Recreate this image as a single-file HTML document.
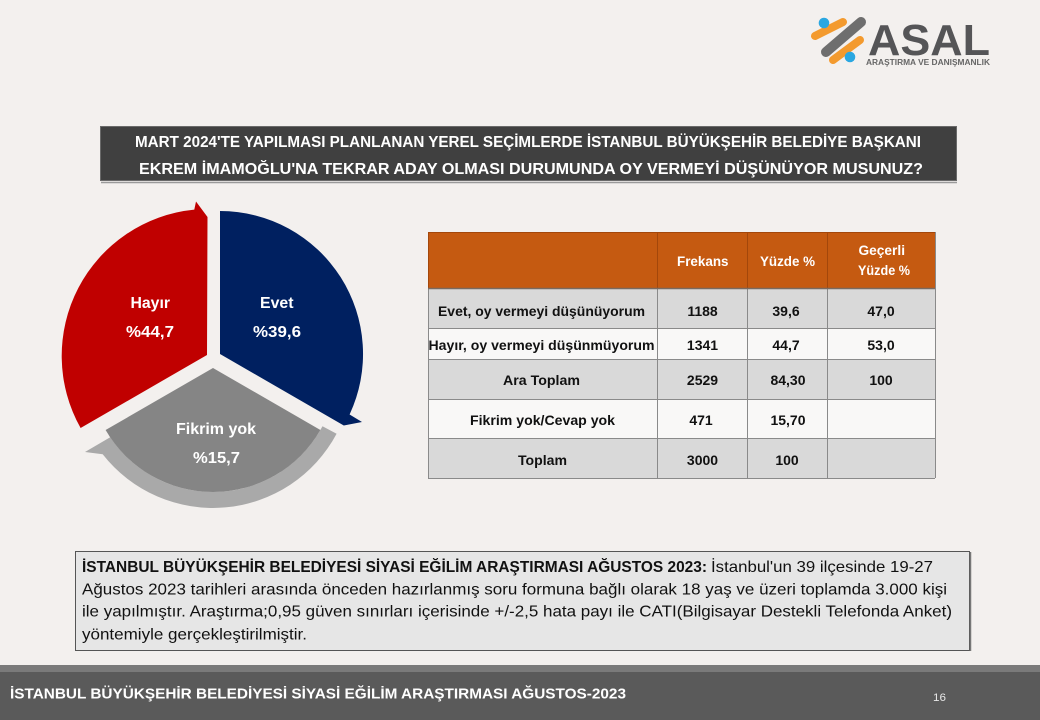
<!DOCTYPE html>
<html>
<head>
<meta charset="utf-8">
<style>
html,body{margin:0;padding:0;background:#f3f0ee;}
svg{display:block;}
text{font-family:"Liberation Sans","DejaVu Sans",sans-serif;}
</style>
</head>
<body>
<svg width="1040" height="720" viewBox="0 0 1040 720" xmlns="http://www.w3.org/2000/svg">
  <rect x="0" y="0" width="1040" height="720" fill="#f3f0ee"/>

  <!-- Logo -->
  <g>
    <line x1="826" y1="52" x2="861" y2="22" stroke="#6e6e6e" stroke-width="10" stroke-linecap="round"/>
    <line x1="815" y1="36" x2="843" y2="22" stroke="#f39a2e" stroke-width="8" stroke-linecap="round"/>
    <line x1="833" y1="60" x2="860" y2="40" stroke="#f39a2e" stroke-width="8" stroke-linecap="round"/>
    <circle cx="824" cy="23" r="5.3" fill="#2aa7e1"/>
    <circle cx="850" cy="57" r="5.3" fill="#2aa7e1"/>
    <text x="868" y="55" font-size="44" font-weight="bold" fill="#555557" textLength="122" lengthAdjust="spacingAndGlyphs">ASAL</text>
    <text x="866" y="65" font-size="8" font-weight="bold" fill="#666" textLength="124" lengthAdjust="spacingAndGlyphs">ARAŞTIRMA VE DANIŞMANLIK</text>
  </g>

  <!-- Title box -->
  <line x1="101" y1="182.5" x2="957" y2="182.5" stroke="#9a9a9a" stroke-width="1.5"/>
  <rect x="100.5" y="126.5" width="856" height="54" fill="#404040" stroke="#6a6a6a" stroke-width="1"/>
  <text x="135" y="147" font-size="16" font-weight="bold" fill="#ffffff" textLength="786" lengthAdjust="spacingAndGlyphs">MART 2024'TE YAPILMASI PLANLANAN YEREL SEÇİMLERDE İSTANBUL BÜYÜKŞEHİR BELEDİYE BAŞKANI</text>
  <text x="139" y="174" font-size="16" font-weight="bold" fill="#ffffff" textLength="784" lengthAdjust="spacingAndGlyphs">EKREM İMAMOĞLU'NA TEKRAR ADAY OLMASI DURUMUNDA OY VERMEYİ DÜŞÜNÜYOR MUSUNUZ?</text>

  <!-- Pie / cycle -->
  <path d="M207,355 L80.6,428 A147,147 0 0 1 194.3,209.6 L196,201.5 L207.5,217 Z" fill="#c00000"/>
  <path d="M220,354 L220,211 A143,143 0 0 1 349.6,414.5 L362,422 L343.8,425.5 Z" fill="#002060"/>
  <path d="M322.5,426.2 L336.6,433.7 A140,140 0 0 1 102.7,454.2 L85,452 L110.2,437.3 A124,124 0 0 0 322.5,426.2 Z" fill="#a9a9a9"/>
  <path d="M213,368 L320.4,430 A124,124 0 0 1 105.6,430 Z" fill="#858585"/>

  <text x="130.5" y="308" font-size="16" font-weight="bold" fill="#ffffff" textLength="39.5" lengthAdjust="spacingAndGlyphs">Hayır</text>
  <text x="126" y="337" font-size="16" font-weight="bold" fill="#ffffff" textLength="48" lengthAdjust="spacingAndGlyphs">%44,7</text>
  <text x="260" y="308" font-size="16" font-weight="bold" fill="#ffffff" textLength="33.5" lengthAdjust="spacingAndGlyphs">Evet</text>
  <text x="253" y="337" font-size="16" font-weight="bold" fill="#ffffff" textLength="48" lengthAdjust="spacingAndGlyphs">%39,6</text>
  <text x="176" y="434" font-size="16" font-weight="bold" fill="#ffffff" textLength="80" lengthAdjust="spacingAndGlyphs">Fikrim yok</text>
  <text x="193" y="463" font-size="16" font-weight="bold" fill="#ffffff" textLength="47" lengthAdjust="spacingAndGlyphs">%15,7</text>

  <!-- Table -->
  <rect x="428" y="232" width="507" height="56" fill="#c55a11"/>
  <rect x="428" y="288" width="507" height="40" fill="#d9d9d9"/>
  <rect x="428" y="328" width="507" height="31" fill="#f9f8f7"/>
  <rect x="428" y="359" width="507" height="40" fill="#d9d9d9"/>
  <rect x="428" y="399" width="507" height="39" fill="#f9f8f7"/>
  <rect x="428" y="438" width="507" height="40" fill="#d9d9d9"/>
  <g stroke="#8a8a8a" stroke-width="1">
    <line x1="428" y1="328.5" x2="935" y2="328.5"/>
    <line x1="428" y1="359.5" x2="935" y2="359.5"/>
    <line x1="428" y1="399.5" x2="935" y2="399.5"/>
    <line x1="428" y1="438.5" x2="935" y2="438.5"/>
    <line x1="428" y1="478.5" x2="935" y2="478.5"/>
    <line x1="428.5" y1="288" x2="428.5" y2="478"/>
    <line x1="657.5" y1="288" x2="657.5" y2="478"/>
    <line x1="747.5" y1="288" x2="747.5" y2="478"/>
    <line x1="827.5" y1="288" x2="827.5" y2="478"/>
    <line x1="935.5" y1="232" x2="935.5" y2="478"/>
  </g>
  <g stroke="#a3470b" stroke-width="1">
    <line x1="428" y1="232.5" x2="935" y2="232.5"/>
    <line x1="428.5" y1="232" x2="428.5" y2="288"/>
    <line x1="657.5" y1="232" x2="657.5" y2="288"/>
    <line x1="747.5" y1="232" x2="747.5" y2="288"/>
    <line x1="827.5" y1="232" x2="827.5" y2="288"/>
  </g>
  <line x1="428" y1="288.5" x2="935" y2="288.5" stroke="#7a6a60" stroke-width="1.5"/>

  <g font-size="13.5" font-weight="bold" fill="#ffffff">
    <text x="677" y="266" textLength="51.5" lengthAdjust="spacingAndGlyphs">Frekans</text>
    <text x="760" y="266" textLength="55" lengthAdjust="spacingAndGlyphs">Yüzde %</text>
    <text x="858.5" y="255" textLength="46.5" lengthAdjust="spacingAndGlyphs">Geçerli</text>
    <text x="858" y="275" textLength="52" lengthAdjust="spacingAndGlyphs">Yüzde %</text>
  </g>
  <g font-size="14" font-weight="bold" fill="#111111">
    <text x="438" y="316" textLength="207" lengthAdjust="spacingAndGlyphs">Evet, oy vermeyi düşünüyorum</text>
    <text x="428.5" y="350" textLength="226" lengthAdjust="spacingAndGlyphs">Hayır, oy vermeyi düşünmüyorum</text>
    <text x="503" y="385" textLength="77" lengthAdjust="spacingAndGlyphs">Ara Toplam</text>
    <text x="470" y="425" textLength="145" lengthAdjust="spacingAndGlyphs">Fikrim yok/Cevap yok</text>
    <text x="518" y="465" textLength="49" lengthAdjust="spacingAndGlyphs">Toplam</text>
  </g>
  <g font-size="14" font-weight="bold" fill="#111111" text-anchor="middle">
    <text x="702.5" y="316">1188</text>
    <text x="786" y="316">39,6</text>
    <text x="881" y="316">47,0</text>
    <text x="702.5" y="350">1341</text>
    <text x="786" y="350">44,7</text>
    <text x="881" y="350">53,0</text>
    <text x="702.5" y="385">2529</text>
    <text x="788" y="385">84,30</text>
    <text x="881" y="385">100</text>
    <text x="701" y="425">471</text>
    <text x="788" y="425">15,70</text>
    <text x="702.5" y="465">3000</text>
    <text x="787" y="465">100</text>
  </g>

  <!-- Bottom info box -->
  <rect x="75.5" y="551.5" width="894" height="99" fill="#e6e6e6" stroke="#555555" stroke-width="1"/>
  <line x1="970.5" y1="552" x2="970.5" y2="651" stroke="#777" stroke-width="1.5"/>
  <g font-size="16" fill="#111111">
    <text x="82" y="572" font-weight="bold" textLength="625" lengthAdjust="spacingAndGlyphs">İSTANBUL BÜYÜKŞEHİR BELEDİYESİ SİYASİ EĞİLİM ARAŞTIRMASI AĞUSTOS 2023:</text>
    <text x="711" y="572" textLength="222" lengthAdjust="spacingAndGlyphs">İstanbul'un 39 ilçesinde 19-27</text>
    <text x="82" y="594.5" textLength="865" lengthAdjust="spacingAndGlyphs">Ağustos 2023 tarihleri arasında önceden hazırlanmış soru formuna bağlı olarak 18 yaş ve üzeri toplamda 3.000 kişi</text>
    <text x="82" y="616.5" textLength="870" lengthAdjust="spacingAndGlyphs">ile yapılmıştır. Araştırma;0,95 güven sınırları içerisinde +/-2,5 hata payı ile CATI(Bilgisayar Destekli Telefonda Anket)</text>
    <text x="82" y="639.5" textLength="225" lengthAdjust="spacingAndGlyphs">yöntemiyle gerçekleştirilmiştir.</text>
  </g>

  <!-- Footer -->
  <rect x="0" y="665" width="1040" height="7" fill="#7a7a7a"/>
  <rect x="0" y="672" width="1040" height="48" fill="#5a5a5a"/>
  <text x="10" y="698.5" font-size="15" font-weight="bold" fill="#ffffff" textLength="616" lengthAdjust="spacingAndGlyphs">İSTANBUL BÜYÜKŞEHİR BELEDİYESİ SİYASİ EĞİLİM ARAŞTIRMASI AĞUSTOS-2023</text>
  <text x="933" y="701" font-size="11" fill="#e8e8e8" textLength="13" lengthAdjust="spacingAndGlyphs">16</text>
</svg>
</body>
</html>
